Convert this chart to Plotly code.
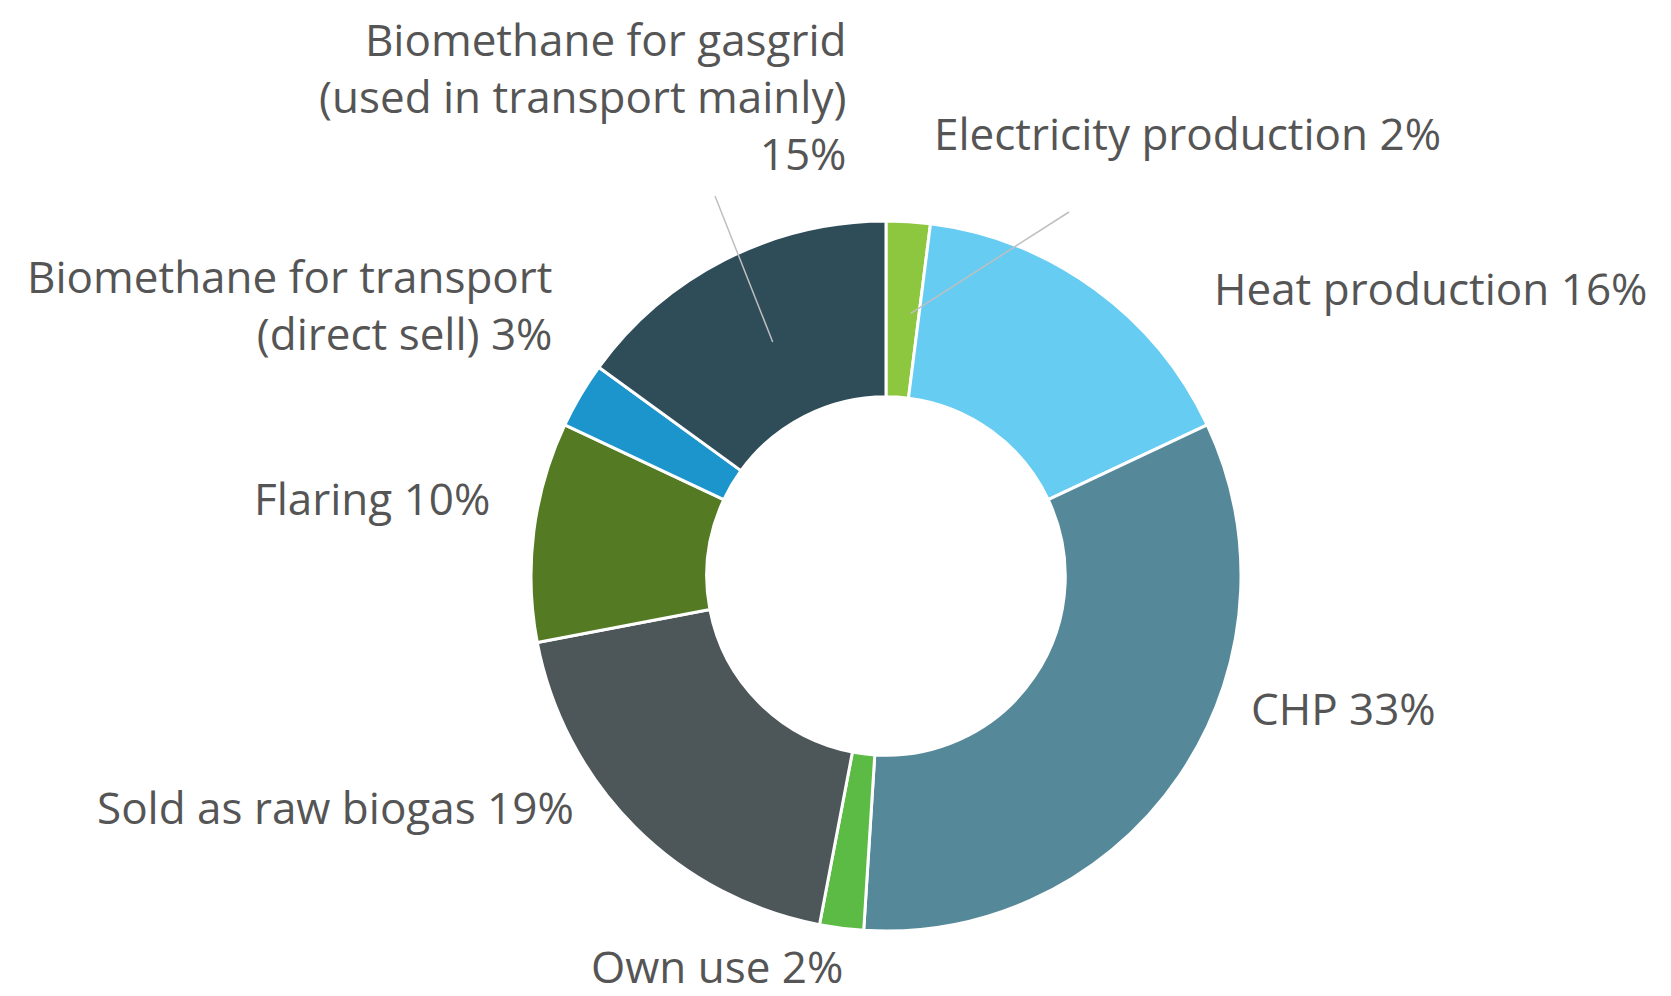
import math
import plotly.graph_objects as go

W, H = 1671, 996

labels = ["Electricity production", "Heat production", "CHP", "Own use",
          "Sold as raw biogas", "Flaring", "Biomethane for transport (direct sell)",
          "Biomethane for gasgrid (used in transport mainly)"]
values = [2, 16, 33, 2, 19, 10, 3, 15]
colors = ["#8DC63F", "#66CCF2", "#55899A", "#5CBB45",
          "#4D5658", "#557A24", "#1C94CC", "#2F4C59"]
label_text = ["Electricity production 2%", "Heat production 16%", "CHP 33%", "Own use 2%",
              "Sold as raw biogas 19%", "Flaring 10%",
              "Biomethane for transport<br>(direct sell) 3%",
              "Biomethane for gasgrid<br>(used in transport mainly)<br>15%"]

# donut geometry in pixels
cx, cy, R = 878, 568, 355
hole = 0.505


def px(x, y):
    return x / W, 1 - y / H


fig = go.Figure(go.Pie(
    labels=labels, values=values, hole=hole, sort=False, direction="clockwise",
    rotation=0, textinfo="none", hoverinfo="label+percent",
    marker=dict(colors=colors, line=dict(color="white", width=3)),
    domain=dict(x=[(cx - R) / W, (cx + R) / W], y=[1 - (cy + R) / H, 1 - (cy - R) / H]),
    showlegend=False,
))

# label placement (pixel anchor, xanchor)
label_pos = [
    (924, 125, "left"), (1204, 280, "left"), (1241, 700, "left"), (709, 958, "center"),
    (568, 799, "right"), (484, 490, "right"), (547, 297, "right"), (840, 88, "right"),
]
font = dict(family="Open Sans, Noto Sans, sans-serif", size=44, color="#555555", weight=400)
for txt, (x, y, anc) in zip(label_text, label_pos):
    ax, ay = px(x, y)
    fig.add_annotation(x=ax, y=ay, xref="paper", yref="paper", text=txt, showarrow=False,
                       xanchor=anc, yanchor="middle", align=anc, font=font)

# leader lines from slice middles to the labels
total = sum(values)
cum = 0
mids = []
for v in values:
    mids.append((cum + v / 2) / total * 2 * math.pi)
    cum += v
pcx, pcy = 886, 572  # visual centre of the donut
rmid = R * (1 + hole) / 2
for idx, (ex, ey) in [(0, (1061, 204)), (7, (707, 188))]:
    sx = pcx + rmid * math.sin(mids[idx])
    sy = pcy - rmid * math.cos(mids[idx])
    x0, y0 = px(sx, sy)
    x1, y1 = px(ex, ey)
    fig.add_shape(type="line", xref="paper", yref="paper", x0=x0, y0=y0, x1=x1, y1=y1,
                  line=dict(color="#BFBFBF", width=1.5))

fig.update_layout(width=W, height=H, margin=dict(l=0, r=0, t=0, b=0),
                  paper_bgcolor="white", plot_bgcolor="white")
fig.write_html("out.html")
